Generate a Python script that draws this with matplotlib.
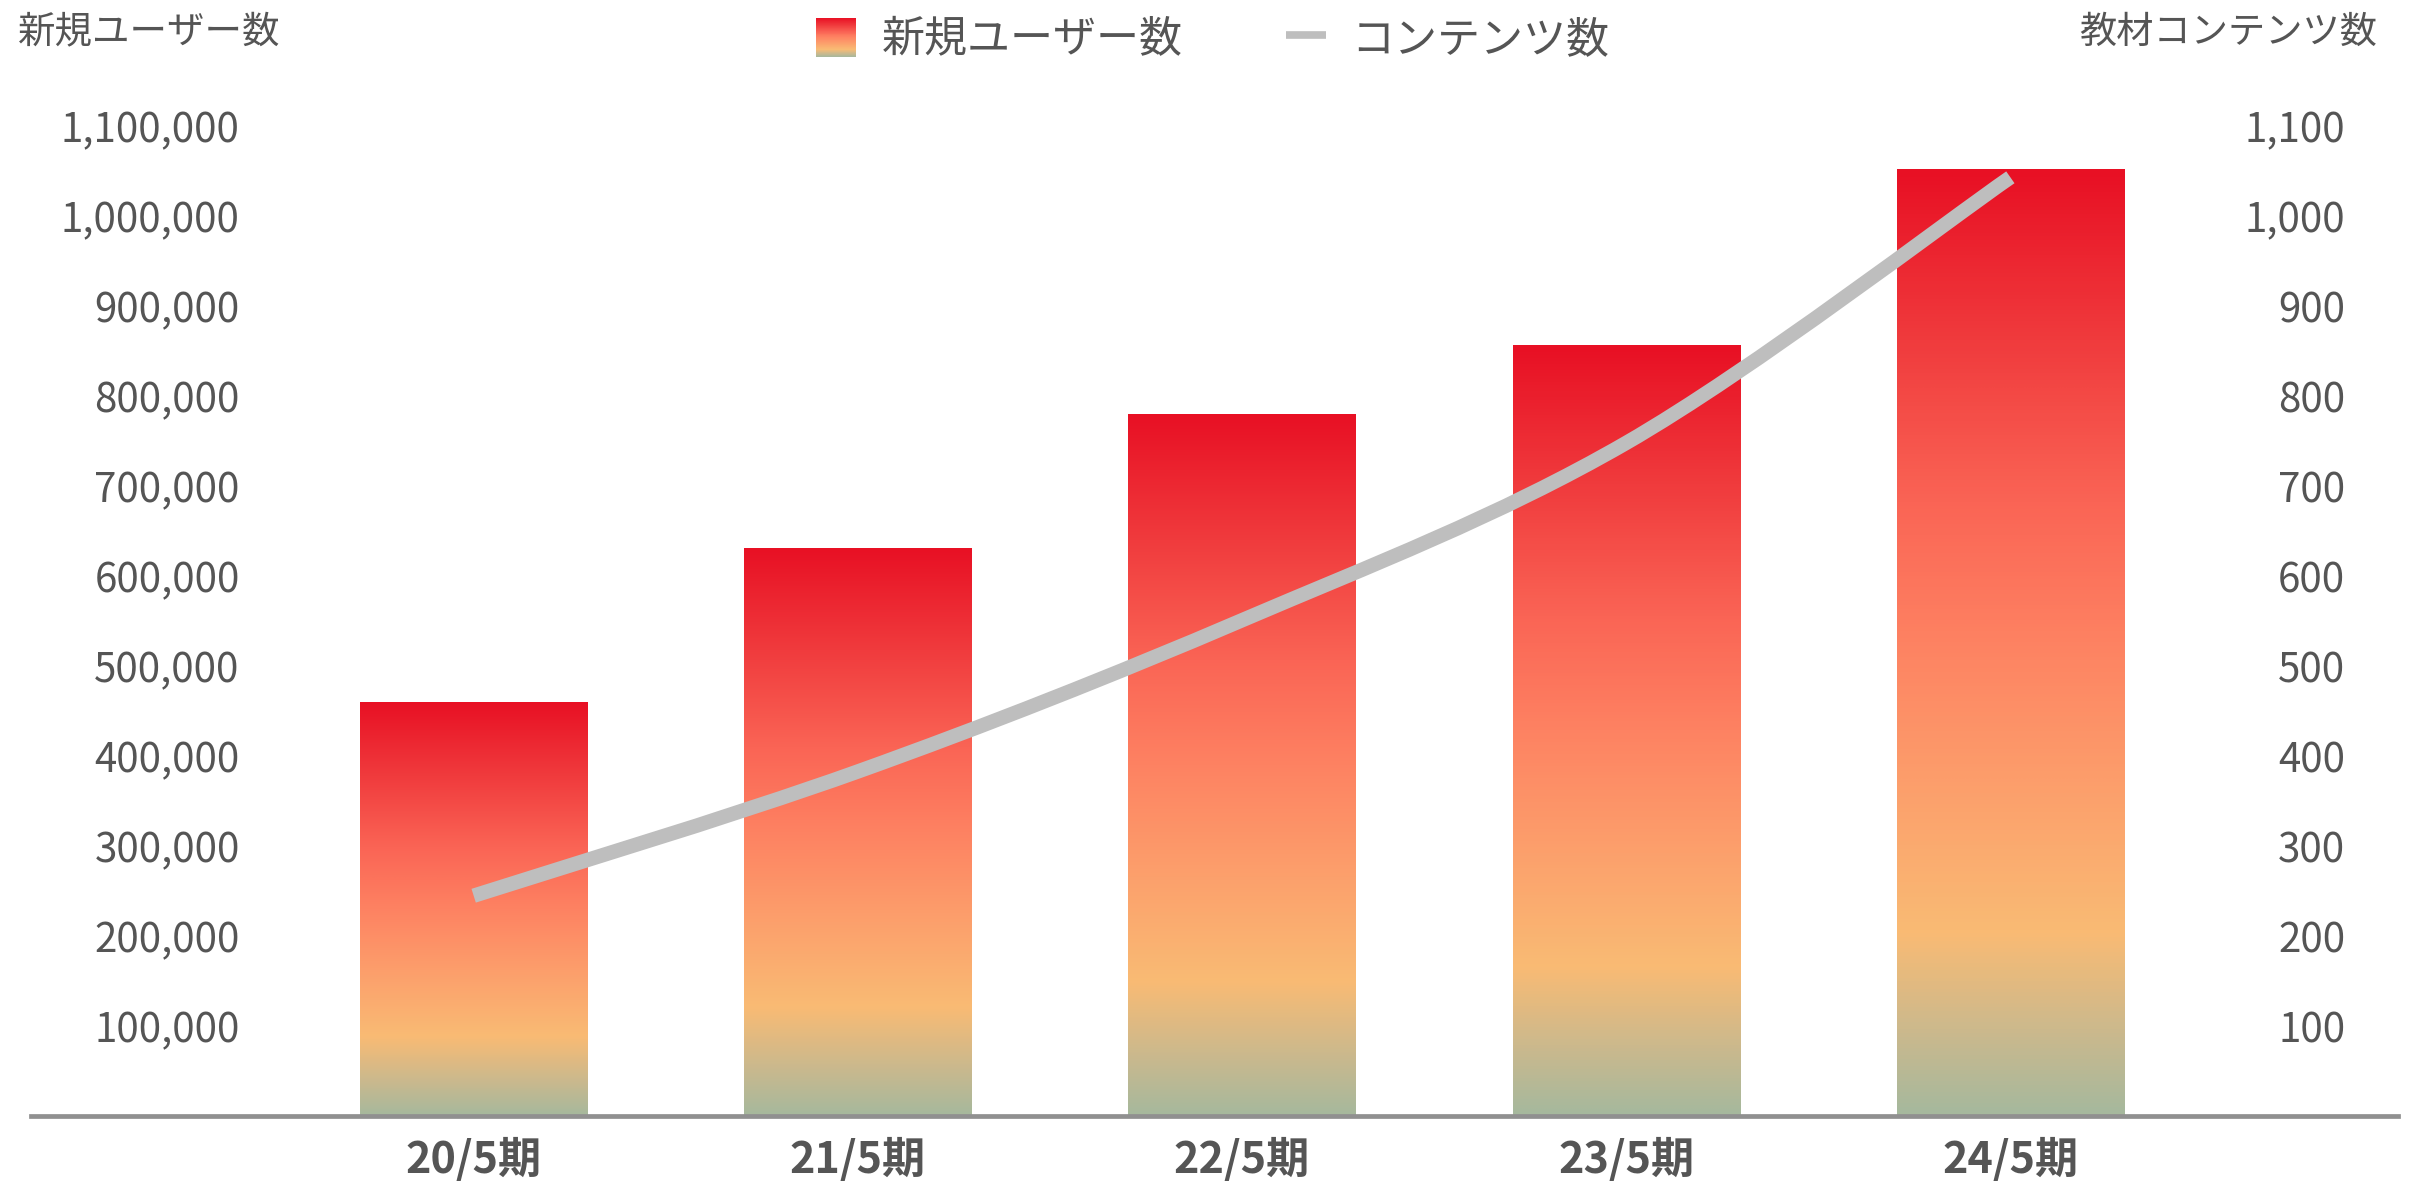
import numpy as np
import matplotlib
matplotlib.use("Agg")
import matplotlib.pyplot as plt
from matplotlib.colors import LinearSegmentedColormap
from matplotlib.legend_handler import HandlerBase
from matplotlib.patches import Rectangle, Patch, PathPatch
from matplotlib.lines import Line2D
from matplotlib.path import Path

plt.rcParams["font.family"] = ["Noto Sans CJK JP", "DejaVu Sans"]

# ---- data ----
periods = ["20/5期", "21/5期", "22/5期", "23/5期", "24/5期"]
new_users = [460000, 631000, 780000, 857000, 1052000]
contents = [245, 383, 551, 748, 1043]
user_ticks = [100000 * i for i in range(1, 12)]
content_ticks = [100 * i for i in range(1, 12)]

TEXT = "#555555"
LINE_GRAY = "#BEBEBE"
AXIS_GRAY = "#909090"

bar_cmap = LinearSegmentedColormap.from_list(
    "bar_grad",
    [(0.00, "#A6B89D"), (0.09, "#CDB98C"), (0.19, "#F9BB74"), (0.34, "#FCA06C"),
     (0.50, "#FE8262"), (0.65, "#FA6455"), (0.82, "#F03B3D"), (1.00, "#E81024")],
)

W, H = 2410, 1185
fig = plt.figure(figsize=(W / 100, H / 100), dpi=100)
ax = fig.add_axes([30.7 / W, 1 - 1116.3 / H, (2398 - 30.7) / W, (1116.3 - 126) / H])

x = np.arange(len(periods))
bars = ax.bar(x, new_users, width=0.591, color="none", edgecolor="none", zorder=2)
grad = np.linspace(0, 1, 256).reshape(-1, 1)
for rect in bars:
    x0, h, w = rect.get_x(), rect.get_height(), rect.get_width()
    im = ax.imshow(grad, cmap=bar_cmap, origin="lower", aspect="auto",
                   extent=[x0, x0 + w, 0, h], zorder=2, interpolation="bilinear")
    im.set_clip_path(rect)

ax.set_xlim(-1.153, 5.009)
ax.set_ylim(0, 1100000)
for s in ("top", "left", "right"):
    ax.spines[s].set_visible(False)
ax.spines["bottom"].set_color(AXIS_GRAY)
ax.spines["bottom"].set_linewidth(3.4)
ax.spines["bottom"].set_zorder(3)

ax.set_yticks(user_ticks, [f"{v:,}" for v in user_ticks])
ax.tick_params(axis="y", length=0, pad=-150.5, labelsize=29, labelcolor=TEXT)
ax.set_xticks(x, periods, fontweight="bold")
ax.tick_params(axis="x", length=0, pad=15.5, labelsize=31, labelcolor=TEXT)

# ---- content count line on secondary axis ----
ax2 = ax.twinx()
ax2.set_ylim(0, 1100)
for s in ax2.spines.values():
    s.set_visible(False)
ax2.set_yticks(content_ticks, [f"{v:,}" for v in content_ticks])
ax2.tick_params(axis="y", length=0, pad=-38, labelsize=29, labelcolor=TEXT)
for lab in ax2.get_yticklabels():
    lab.set_horizontalalignment("right")

pts = np.column_stack([x, contents]).astype(float)
verts = [tuple(pts[0])]
codes = [Path.MOVETO]
n = len(pts)
for i in range(n - 1):
    p_prev = pts[max(i - 1, 0)]
    p0, p1 = pts[i], pts[i + 1]
    p_next = pts[min(i + 2, n - 1)]
    c1 = p0 + (p1 - p_prev) / 6.0
    c2 = p1 - (p_next - p0) / 6.0
    verts += [tuple(c1), tuple(c2), tuple(p1)]
    codes += [Path.CURVE4] * 3
ax2.add_patch(PathPatch(Path(verts, codes), facecolor="none", edgecolor=LINE_GRAY,
                        linewidth=10.4, capstyle="butt", joinstyle="round", zorder=4))

# ---- axis titles ----
fig.text(18 / W, 1 - 32 / H, "新規ユーザー数", fontsize=27, color=TEXT,
         ha="left", va="center")
fig.text(2377 / W, 1 - 32 / H, "教材コンテンツ数", fontsize=26.8, color=TEXT,
         ha="right", va="center")


# ---- legend ----
class GradientHandler(HandlerBase):
    def create_artists(self, legend, orig_handle, xdescent, ydescent,
                       width, height, fontsize, trans):
        steps = 40
        arts = []
        for i in range(steps):
            arts.append(Rectangle((-xdescent, -ydescent + i * height / steps),
                                  width, height / steps * 1.05,
                                  facecolor=bar_cmap((i + 0.5) / steps),
                                  edgecolor="none", transform=trans))
        return arts


handles = [Patch(label="新規ユーザー数"),
           Line2D([], [], color=LINE_GRAY, linewidth=5.5, solid_capstyle="butt",
                  label="コンテンツ数")]
leg = fig.legend(handles=handles, loc="center", bbox_to_anchor=(1213 / W, 1 - 40 / H),
                 ncol=2, frameon=False, fontsize=31, handlelength=0.92,
                 handleheight=1.02, handletextpad=0.6, columnspacing=2.4,
                 labelcolor=TEXT, handler_map={Patch: GradientHandler()})

fig.savefig("out.png", dpi=100)
